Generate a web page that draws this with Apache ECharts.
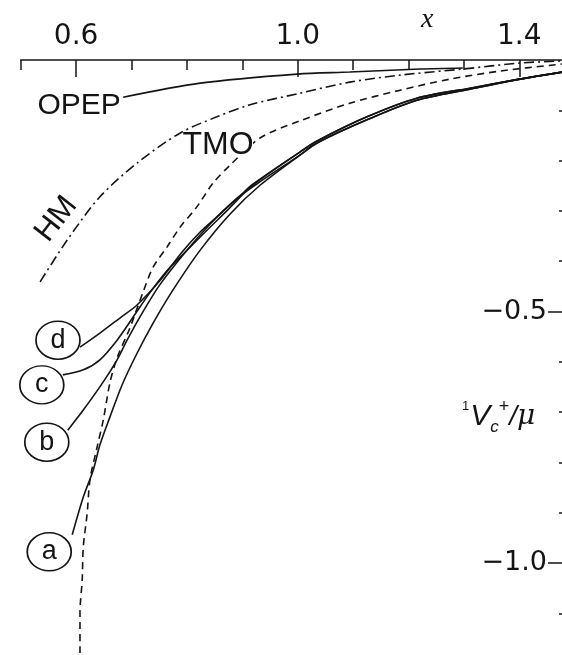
<!DOCTYPE html>
<html>
<head>
<meta charset="utf-8">
<script src="https://cdn.jsdelivr.net/npm/echarts@6/dist/echarts.min.js"></script>
<style>
html,body{margin:0;padding:0;background:#fff;}
#chart{width:562px;height:655px;}
</style>
</head>
<body>
<div id="chart"></div>
<script>
// ---- data ----
const xMajorTicks = [0.6, 1.0, 1.4];
const xMajorLabels = ['0.6', '1.0', '1.4'];
const xMinorTicks = [0.5, 0.7, 0.8, 0.9, 1.1, 1.2, 1.3];
const yMajorTicks = [-0.5, -1.0];
const yMajorLabels = ['\u22120.5', '\u22121.0'];
const yMinorTicks = [-0.1, -0.2, -0.3, -0.4, -0.6, -0.7, -0.8, -0.9, -1.1];

const opepX = [0.685, 0.824, 0.999, 1.094, 1.221, 1.298];
const opepY = [-0.074, -0.046, -0.028, -0.024, -0.018, -0.016];

const hmX = [0.535, 0.584, 0.643, 0.710, 0.788, 0.854, 0.914, 1.004, 1.094, 1.185, 1.298, 1.401, 1.477];
const hmY = [-0.441, -0.358, -0.272, -0.205, -0.145, -0.113, -0.089, -0.066, -0.044, -0.030, -0.018, -0.006, -0.002];

const tmoX = [0.607, 0.607, 0.611, 0.613, 0.620, 0.625, 0.638, 0.649, 0.661, 0.674, 0.697, 0.721, 0.739, 0.764, 0.788, 0.818, 0.847, 0.878, 0.932, 1.004, 1.094, 1.185, 1.275, 1.365, 1.477];
const tmoY = [-1.179, -1.099, -1.034, -0.968, -0.901, -0.835, -0.769, -0.716, -0.642, -0.592, -0.533, -0.461, -0.412, -0.372, -0.332, -0.292, -0.245, -0.209, -0.155, -0.121, -0.086, -0.060, -0.038, -0.022, -0.008];

const aX = [0.593, 0.613, 0.631, 0.643, 0.661, 0.683, 0.710, 0.739, 0.775, 0.824, 0.878, 0.932, 1.004, 1.035, 1.125, 1.215, 1.311, 1.401, 1.477];
const aY = [-0.944, -0.869, -0.815, -0.765, -0.710, -0.646, -0.583, -0.523, -0.457, -0.378, -0.306, -0.249, -0.189, -0.165, -0.119, -0.080, -0.058, -0.038, -0.024];

const bX = [0.585, 0.613, 0.649, 0.674, 0.692, 0.715, 0.751, 0.797, 0.842, 0.887, 0.928, 1.004, 1.035, 1.125, 1.215, 1.311, 1.401, 1.477];
const bY = [-0.736, -0.696, -0.640, -0.596, -0.557, -0.511, -0.447, -0.382, -0.326, -0.278, -0.245, -0.189, -0.165, -0.119, -0.080, -0.058, -0.038, -0.024];

const cX = [0.576, 0.613, 0.643, 0.674, 0.703, 0.733, 0.764, 0.797, 0.833, 0.872, 0.919, 1.004, 1.035, 1.125, 1.215, 1.311, 1.401, 1.477];
const cY = [-0.626, -0.616, -0.596, -0.557, -0.511, -0.463, -0.419, -0.382, -0.342, -0.300, -0.249, -0.183, -0.161, -0.113, -0.076, -0.056, -0.038, -0.024];

const dX = [0.607, 0.643, 0.679, 0.710, 0.751, 0.791, 0.824, 0.854, 0.896, 0.919, 1.004, 1.035, 1.125, 1.215, 1.311, 1.401, 1.477];
const dY = [-0.571, -0.543, -0.513, -0.487, -0.439, -0.382, -0.342, -0.312, -0.270, -0.247, -0.183, -0.161, -0.113, -0.076, -0.056, -0.038, -0.024];

// ---- chart ----
const INK = '#141414';
const FONT = '"Liberation Sans", "DejaVu Sans", sans-serif';
const AXFONT = '"DejaVu Sans", "Liberation Sans", sans-serif';
const zip = (xs, ys) => xs.map((x, i) => [x, ys[i]]);

function circleMark(pt, letter, off) {
  return {
    coord: pt, symbol: 'circle', symbolSize: [44, 38], symbolOffset: off,
    itemStyle: { color: '#fff', borderColor: INK, borderWidth: 1.6 },
    label: { show: true, position: 'inside', formatter: letter, fontSize: 27, color: INK, fontFamily: FONT }
  };
}

function curve(name, xs, ys, lineType, marks) {
  return {
    name: name, type: 'line', data: zip(xs, ys), smooth: 0.3,
    showSymbol: false, symbol: 'none', silent: true, animation: false, clip: false,
    lineStyle: { color: INK, width: 1.6, type: lineType },
    markPoint: { silent: true, animation: false, data: marks }
  };
}

const textMark = (pt, txt, size, off, opts) => Object.assign({
  coord: pt, symbol: 'rect', symbolSize: size, symbolOffset: off,
  itemStyle: { color: 'rgba(255,255,255,0)' },
  label: { show: true, position: 'inside', formatter: txt, fontSize: 30, color: INK, fontFamily: FONT }
}, opts || {});

const chart = echarts.init(document.getElementById('chart'), null, { renderer: 'canvas' });

const axisBaseX = { type: 'value', position: 'top', min: 0.5, max: 1.5, interval: 0.1, splitLine: { show: false } };
const axisBaseY = { type: 'value', position: 'right', offset: -12.7, min: -1.2, max: 0, interval: 0.1, splitLine: { show: false } };

chart.setOption({
  backgroundColor: '#fff',
  animation: false,
  grid: { left: 20.7, right: -12.7, top: 60, bottom: -8.6, containLabel: false, outerBoundsMode: 'none' },
  xAxis: [
    Object.assign({}, axisBaseX, {
      axisLine: { show: true, lineStyle: { color: INK, width: 1.6 } },
      axisTick: { show: true, inside: true, length: 10, customValues: xMinorTicks, lineStyle: { color: INK, width: 1.5 } },
      axisLabel: { show: false }
    }),
    Object.assign({}, axisBaseX, {
      axisLine: { show: false },
      axisTick: { show: true, inside: true, length: 17, customValues: xMajorTicks, lineStyle: { color: INK, width: 1.5 } },
      axisLabel: { show: true, customValues: xMajorTicks, margin: 9, fontSize: 28, color: INK, fontFamily: AXFONT,
        formatter: v => xMajorLabels[xMajorTicks.findIndex(t => Math.abs(t - v) < 1e-6)] || '' }
    })
  ],
  yAxis: [
    Object.assign({}, axisBaseY, {
      axisLine: { show: false },
      axisTick: { show: true, inside: true, length: 3, customValues: yMinorTicks, lineStyle: { color: INK, width: 1.5 } },
      axisLabel: { show: false }
    }),
    Object.assign({}, axisBaseY, {
      axisLine: { show: false },
      axisTick: { show: true, inside: true, length: 14, customValues: yMajorTicks, lineStyle: { color: INK, width: 1.5 } },
      axisLabel: { show: true, inside: true, customValues: yMajorTicks, margin: 15, fontSize: 27, color: INK, fontFamily: AXFONT,
        formatter: v => yMajorLabels[yMajorTicks.findIndex(t => Math.abs(t - v) < 1e-6)] || '' }
    })
  ],
  series: [
    curve('OPEP', opepX, opepY, 'solid', [textMark([opepX[0], opepY[0]], 'OPEP', [88, 24], [-44, 9])]),
    curve('HM', hmX, hmY, [10, 4, 2, 4], [textMark([hmX[1], hmY[1]], 'HM', [40, 40], [-11, -21],
      { label: { show: true, position: 'inside', formatter: 'HM', fontSize: 31, color: INK, fontFamily: FONT, rotate: 52 } })]),
    curve('TMO', tmoX, tmoY, [7, 5], [textMark([tmoX[18], tmoY[18]], 'TMO', [70, 24], [-42, 7],
      { itemStyle: { color: '#fff' }, label: { show: true, position: 'inside', formatter: 'TMO', fontSize: 32, color: INK, fontFamily: FONT } })]),
    curve('a', aX, aY, 'solid', [circleMark([aX[0], aY[0]], 'a', [-23, 17])]),
    curve('b', bX, bY, 'solid', [circleMark([bX[0], bY[0]], 'b', [-21, 12])]),
    curve('c', cX, cY, 'solid', [circleMark([cX[0], cY[0]], 'c', [-21, 10])]),
    curve('d', dX, dY, 'solid', [circleMark([dX[0], dY[0]], 'd', [-22, -7])])
  ],
  graphic: [
    { type: 'text', left: 421, top: 6, silent: true,
      style: { text: 'x', fill: INK, font: 'italic 28px "Liberation Serif", "DejaVu Serif", serif' } },
    { type: 'text', left: 462, top: 398, silent: true,
      style: {
        text: '{one|1}{v|V}{sub|c}{sup|+}{sl|/}{mu|\u03bc}', fill: INK,
        rich: {
          one: { fontSize: 13, fontFamily: FONT, verticalAlign: 'top', lineHeight: 38, padding: [2, 1, 0, 0] },
          v: { fontSize: 30, fontStyle: 'italic', fontFamily: FONT, lineHeight: 38 },
          sub: { fontSize: 17, fontStyle: 'italic', fontFamily: FONT, verticalAlign: 'bottom', lineHeight: 38 },
          sup: { fontSize: 18, fontFamily: FONT, verticalAlign: 'top', lineHeight: 38 },
          sl: { fontSize: 28, fontStyle: 'italic', fontFamily: FONT, lineHeight: 38 },
          mu: { fontSize: 28, fontStyle: 'italic', fontFamily: '"DejaVu Serif", serif', lineHeight: 38 }
        }
      } }
  ]
});
</script>
</body>
</html>
